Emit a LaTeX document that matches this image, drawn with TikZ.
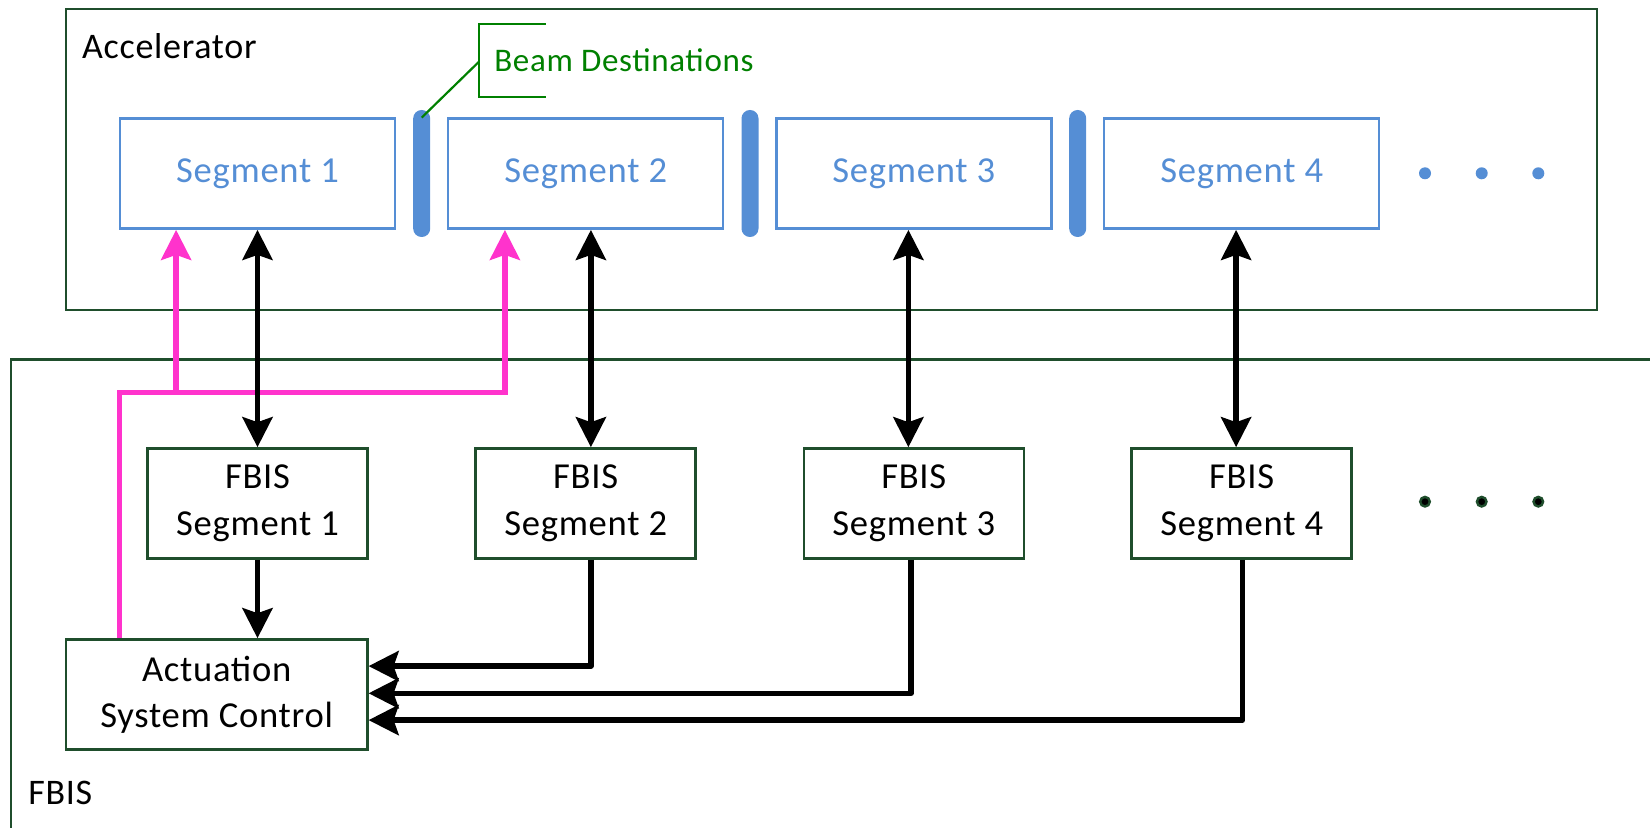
\documentclass[tikz,border=0pt]{standalone}
\usepackage{fontspec}
\setmainfont{Carlito}[LetterSpace=2.0]
\usetikzlibrary{arrows.meta,calc}
\definecolor{dgreen}{RGB}{31,78,44}
\definecolor{sblue}{RGB}{85,142,213}
\definecolor{pinkc}{RGB}{255,51,204}
\definecolor{bgreen}{RGB}{0,128,0}
\tikzset{
  outline/.style={draw=dgreen, line width=1.3pt},
  lbl/.style={inner sep=0pt, font=\fontsize{18}{23}\selectfont},
  segbox/.style={draw=sblue, line width=1.2pt, minimum width=137.5pt, minimum height=55pt, inner sep=0pt, text=sblue, font=\fontsize{18.3}{23}\selectfont},
  fbisbox/.style={outline, minimum width=110pt, minimum height=55pt, inner sep=0pt, align=center, font=\fontsize{18.3}{23.5}\selectfont},
  actbox/.style={outline, minimum width=150.6pt, minimum height=55pt, inner sep=0pt, align=center, font=\fontsize{18.3}{23}\selectfont},
  barnode/.style={fill=sblue, rounded corners=4.2pt, minimum width=8.5pt, minimum height=63.5pt, inner sep=0pt},
  conn/.style={line width=2.8pt, line join=round, -{Stealth[length=15pt,width=15pt,inset=2.5pt]}},
  dconn/.style={line width=2.8pt, {Stealth[length=15pt,width=15pt,inset=2.5pt]}-{Stealth[length=15pt,width=15pt,inset=2.5pt]}},
  pinkl/.style={draw=pinkc, line width=2.7pt, line join=miter},
  pinkarr/.style={pinkl, -{Stealth[length=15pt,width=15pt,inset=2.5pt]}},
  bdot/.style={circle, fill=sblue, inner sep=0pt, minimum size=6pt},
  gdot/.style={circle, draw=dgreen, fill=black, line width=1.2pt, inner sep=0pt, minimum size=4.8pt},
}
\begin{document}
\begin{tikzpicture}[x=0.5pt,y=-0.5pt]
\useasboundingbox (0,0) rectangle (1650,828);
% outer boxes
\node[outline, minimum width=765.5pt, minimum height=150.5pt, inner sep=0pt] (acc) at (831.5,159.5) {};
\node[lbl, anchor=base west] (acclbl) at (81.7,59) {Accelerator};
\draw[outline] (1665,359.5) -| (11,845);
\node[lbl, anchor=base west] (fbislbl) at (28,804) {FBIS};
% accelerator segments
\node[segbox] (seg1) at (257.5,173.7) {Segment 1};
\node[segbox] (seg2) at (585.7,173.7) {Segment 2};
\node[segbox] (seg3) at (913.8,173.7) {Segment 3};
\node[segbox] (seg4) at (1241.7,173.7) {Segment 4};
\node[barnode] (bar1) at (421.7,173.5) {};
\node[barnode] (bar2) at (750,173.5) {};
\node[barnode] (bar3) at (1077.7,173.5) {};
\node[bdot] (ud1) at (1425,173.3) {};
\node[bdot] (ud2) at (1481.7,173.3) {};
\node[bdot] (ud3) at (1538.3,173.3) {};
% callout
\coordinate (cb) at (479,61.7);
\draw[draw=bgreen, line width=1.1pt] (545.7,24.3) -| (479,97.3) -- (545.7,97.3);
\draw[draw=bgreen, line width=1.1pt] (cb) -- ([yshift=-4pt]bar1.north);
\node[inner sep=0pt, anchor=west, text=bgreen, font=\fontsize{16.5}{20}\selectfont] (beam) at (494,60) {Beam Destinations};
% FBIS segments
\node[fbisbox] (fbis1) at (257.5,503.5) {FBIS\\Segment 1};
\node[fbisbox] (fbis2) at (585.7,503.5) {FBIS\\Segment 2};
\node[fbisbox] (fbis3) at (913.8,503.5) {FBIS\\Segment 3};
\node[fbisbox] (fbis4) at (1241.7,503.5) {FBIS\\Segment 4};
\node[gdot] (ld1) at (1425,501.7) {};
\node[gdot] (ld2) at (1481.7,501.7) {};
\node[gdot] (ld3) at (1538.3,501.7) {};
\node[actbox] (act) at (216.7,694.5) {Actuation\\System Control};
% pink connectors
\coordinate (pj) at (120.7,392.3);
\draw[pinkarr] ([xshift=27.35pt]act.north west) |- ([xshift=-40.4pt]seg2.south |- pj) -- ([xshift=-40.4pt]seg2.south);
\draw[pinkarr] ([xshift=-40.7pt]seg1.south |- pj) -- ([xshift=-40.7pt]seg1.south);
% black connectors
\draw[dconn] (seg1.south) -- (fbis1.north);
\draw[dconn] ([xshift=2.6pt]seg2.south) -- ([xshift=2.6pt]fbis2.north);
\draw[dconn] ([xshift=-2.7pt]seg3.south) -- ([xshift=-2.7pt]fbis3.north);
\draw[dconn] ([xshift=-2.8pt]seg4.south) -- ([xshift=-2.8pt]fbis4.north);
\draw[conn] (fbis1.south) -- (fbis1.south |- act.north);
\draw[conn] ([xshift=2.65pt]fbis2.south) |- ([yshift=14.2pt]act.east);
\draw[conn] ([xshift=-1.4pt]fbis3.south) |- ([yshift=0.6pt]act.east);
\draw[conn] ([xshift=0.4pt]fbis4.south) |- ([yshift=-12.8pt]act.east);
\end{tikzpicture}
\end{document}
